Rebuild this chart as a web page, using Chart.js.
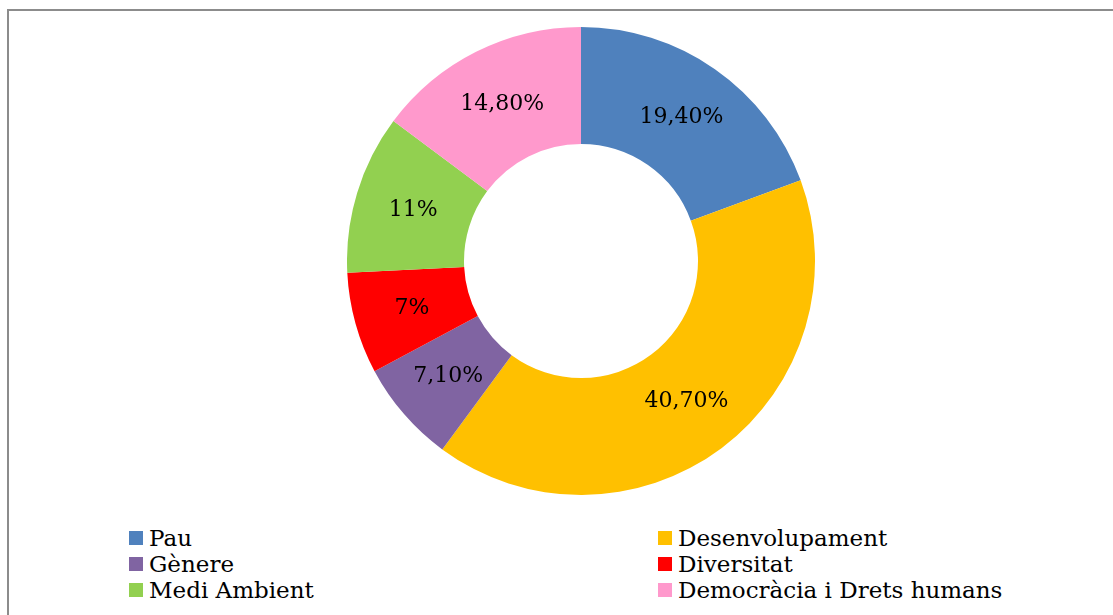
<!DOCTYPE html>
<html>
<head>
<meta charset="utf-8">
<script src="https://cdn.jsdelivr.net/npm/chart.js@4.4.1/dist/chart.umd.min.js"></script>
<style>
  html, body { margin: 0; padding: 0; background: #fff; }
  body { width: 1113px; height: 615px; position: relative; overflow: hidden; }
  #frame {
    position: absolute; left: 7px; top: 9px; width: 1130px; height: 640px;
    border-left: 2px solid #8c8c8c; border-top: 2px solid #8c8c8c;
  }
  #donut { position: absolute; left: 347px; top: 27px; }
  #legend {
    position: absolute; left: 129px; top: 525px;
    display: grid; grid-template-columns: 529px auto;
    font-family: 'DejaVu Serif', Georgia, serif; font-size: 23px; line-height: 26px; color: #000;
  }
  .item { display: flex; align-items: center; white-space: nowrap; }
  .swatch { width: 14px; height: 14px; margin-right: 6px; flex: none; }
</style>
</head>
<body>
<div id="frame"></div>
<canvas id="donut" width="468" height="468"></canvas>
<div id="legend"></div>
<script>
// Share of projects per area
const categories = ['Pau', 'Desenvolupament', 'Gènere', 'Diversitat', 'Medi Ambient', 'Democràcia i Drets humans']
const shares = [19.4, 40.7, 7.1, 7, 11, 14.8]
const colors = ['#4F81BD', '#FFC000', '#8064A2', '#FF0000', '#92D050', '#FF99CC']

const fmt = v => Number.isInteger(v) ? v + '%' : v.toFixed(2).replace('.', ',') + '%'

// Percent labels centred in each ring segment
const sliceLabels = {
  id: 'sliceLabels',
  afterDatasetsDraw(chart) {
    const ctx = chart.ctx
    const meta = chart.getDatasetMeta(0)
    ctx.save()
    ctx.font = '22px "DejaVu Serif", Georgia, serif'
    ctx.fillStyle = '#000'
    ctx.textAlign = 'center'
    ctx.textBaseline = 'middle'
    meta.data.forEach((arc, i) => {
      const p = arc.getCenterPoint()
      ctx.fillText(fmt(chart.data.datasets[0].data[i]), p.x, p.y)
    })
    ctx.restore()
  }
}

new Chart(document.getElementById('donut'), {
  type: 'doughnut',
  data: {
    labels: categories,
    datasets: [{
      data: shares,
      backgroundColor: colors,
      borderWidth: 0
    }]
  },
  options: {
    responsive: false,
    animation: false,
    cutout: '50%',
    layout: { padding: 0 },
    plugins: {
      legend: { display: false },
      tooltip: { enabled: false }
    }
  },
  plugins: [sliceLabels]
})

// Two-column legend below the ring
const legend = document.getElementById('legend')
categories.forEach((name, i) => {
  const item = document.createElement('div')
  item.className = 'item'
  const sw = document.createElement('span')
  sw.className = 'swatch'
  sw.style.background = colors[i]
  const txt = document.createElement('span')
  txt.textContent = name
  item.appendChild(sw)
  item.appendChild(txt)
  legend.appendChild(item)
})
</script>
</body>
</html>
